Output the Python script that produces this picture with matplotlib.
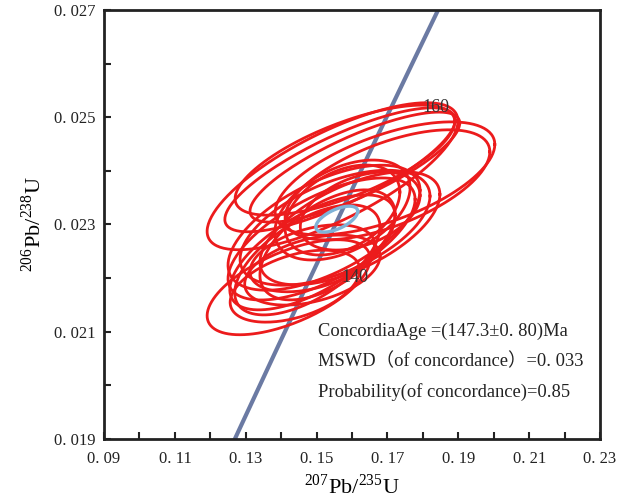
import numpy as np
import matplotlib
matplotlib.use("Agg")
import matplotlib.pyplot as plt
from matplotlib.ticker import FixedLocator, FuncFormatter

plt.rcParams['font.family'] = ['Liberation Serif', 'Noto Sans CJK SC', 'DejaVu Sans']
plt.rcParams['mathtext.fontset'] = 'custom'
plt.rcParams['mathtext.rm'] = 'Liberation Serif'

# error ellipses: centre, half-extent in x and y, correlation
ell_x = [0.1545, 0.1580, 0.1566, 0.1608, 0.1693, 0.1700, 0.1521, 0.1552, 0.1514, 0.1594,
         0.1573, 0.1573, 0.1623, 0.1488, 0.1474, 0.1531, 0.1421, 0.1439, 0.1488, 0.1488]
ell_y = [0.02390, 0.02420, 0.02402, 0.02407, 0.02386, 0.02374, 0.02294, 0.02294, 0.02273, 0.02293,
         0.02327, 0.02327, 0.02325, 0.02248, 0.02234, 0.02262, 0.02183, 0.02185, 0.02215, 0.02237]
ell_sx = [0.0354, 0.0310, 0.0325, 0.0296, 0.0310, 0.0289, 0.0271, 0.0268, 0.0264, 0.0254,
          0.0191, 0.0162, 0.0169, 0.0233, 0.0205, 0.0191, 0.0230, 0.0183, 0.0191, 0.0176]
ell_sy = [0.001371, 0.001026, 0.001156, 0.001026, 0.001054, 0.001026, 0.001166, 0.001072, 0.001138, 0.001054,
          0.000932, 0.000839, 0.000727, 0.001072, 0.001026, 0.001026, 0.000886, 0.000671, 0.000653, 0.000625]
ell_rho = [0.75, 0.70, 0.80, 0.80, 0.60, 0.60, 0.60, 0.55, 0.65, 0.60,
           0.45, 0.40, 0.40, 0.65, 0.60, 0.55, 0.60, 0.45, 0.40, 0.40]

# concordia age ellipse
age_x, age_y, age_sx, age_sy, age_rho = 0.1557, 0.02310, 0.0059, 0.000242, 0.6

age_labels = [140, 160]
info_lines = ["ConcordiaAge =(147.3±0. 80)Ma",
              "MSWD（of concordance）=0. 033",
              "Probability(of concordance)=0.85"]

x_major = [0.09, 0.11, 0.13, 0.15, 0.17, 0.19, 0.21, 0.23]
x_minor = [0.10, 0.12, 0.14, 0.16, 0.18, 0.20, 0.22]
y_major = [0.019, 0.021, 0.023, 0.025, 0.027]
y_minor = [0.020, 0.022, 0.024, 0.026]

l238 = 1.55125e-10
l235 = 9.8485e-10


def ellipse(cx, cy, sx, sy, rho):
    t = np.linspace(0, 2 * np.pi, 200)
    x = cx + sx * np.cos(t)
    y = cy + sy * (rho * np.cos(t) + np.sqrt(1 - rho ** 2) * np.sin(t))
    return x, y


fig = plt.figure(figsize=(6.32, 5.01), dpi=100)
ax = fig.add_axes([0.1646, 0.1238, 0.7848, 0.8562])

# concordia curve
t = np.linspace(100e6, 200e6, 400)
ax.plot(np.exp(l235 * t) - 1, np.exp(l238 * t) - 1, color='#6b7aa3', lw=3, zorder=1)

for i in range(len(ell_x)):
    x, y = ellipse(ell_x[i], ell_y[i], ell_sx[i], ell_sy[i], ell_rho[i])
    ax.plot(x, y, color='#ec1b1c', lw=2.0, zorder=2)

x, y = ellipse(age_x, age_y, age_sx, age_sy, age_rho)
ax.plot(x, y, color='#7fb3d8', lw=2.4, zorder=3)

for a in age_labels:
    ta = a * 1e6
    ax.text(np.exp(l235 * ta) - 1 + 0.0130, np.exp(l238 * ta) - 1 + 0.00006, str(a),
            fontsize=13, color='#333333', ha='center', va='center', zorder=4)

for k, line in enumerate(info_lines):
    ax.text(0.1503, 0.02101 - k * 0.00057, line, fontsize=13.3, ha='left', va='center',
            color='#222222')

ax.set_xlim(0.09, 0.23)
ax.set_ylim(0.019, 0.027)
ax.xaxis.set_major_locator(FixedLocator(x_major))
ax.xaxis.set_minor_locator(FixedLocator(x_minor))
ax.yaxis.set_major_locator(FixedLocator(y_major))
ax.yaxis.set_minor_locator(FixedLocator(y_minor))
ax.xaxis.set_major_formatter(FuncFormatter(lambda v, p: f"{v:.2f}".replace('.', '. ')))
ax.yaxis.set_major_formatter(FuncFormatter(lambda v, p: f"{v:.3f}".replace('.', '. ')))
ax.tick_params(which='both', direction='in', length=5, width=1.5, top=False, right=False,
               labelsize=12, colors='#222222')
ax.tick_params(axis='x', pad=9)
ax.tick_params(axis='y', pad=6)
for s in ax.spines.values():
    s.set_linewidth(2)
    s.set_color('#222222')

ax.set_xlabel(r'$^{207}\mathrm{Pb}/^{235}\mathrm{U}$', fontsize=16, labelpad=5)
ax.set_ylabel(r'$^{206}\mathrm{Pb}/^{238}\mathrm{U}$', fontsize=16, labelpad=6)

fig.savefig('out.png', dpi=100)
